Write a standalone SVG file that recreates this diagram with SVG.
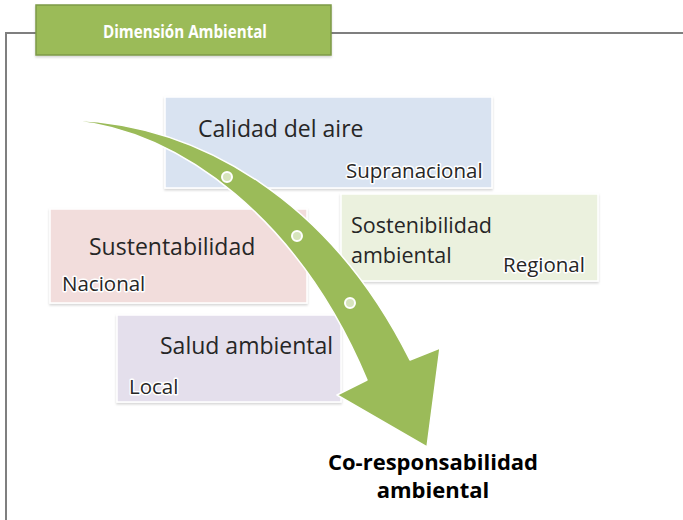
<svg xmlns="http://www.w3.org/2000/svg" width="683" height="520" viewBox="0 0 683 520">
<defs>
<style>
.frame{fill:none;stroke:#7f7f7f;stroke-width:2}
.box{stroke:#ffffff;stroke-width:1.5;filter:url(#sh)}
.t{font-family:"Open Sans","Liberation Sans",sans-serif;fill:#262626}
.big{font-size:23px}
.sm{font-size:20.5px;stroke:#ffffff;stroke-width:3;stroke-linejoin:round;paint-order:stroke}
.bold{font-weight:bold;font-size:22px;fill:#000}
.dot{fill:#d7e4bd;stroke:#ffffff;stroke-width:2}
</style>
<filter id="sh" x="-10%" y="-10%" width="120%" height="130%">
<feDropShadow dx="0" dy="1.5" stdDeviation="1.2" flood-color="#000" flood-opacity="0.18"/>
</filter>
</defs>
<g id="frame">
<path class="frame" d="M6,520 V33 H683"/>
</g>
<g id="title">
<rect x="36" y="5" width="295" height="50" fill="#9bbb59" stroke="#7e9a48" stroke-width="1.5" filter="url(#sh)"/>
<text x="185" y="37.5" text-anchor="middle" font-family="'Open Sans','Liberation Sans',sans-serif" font-size="17" font-weight="bold" fill="#ffffff" textLength="164" lengthAdjust="spacingAndGlyphs">Dimensión Ambiental</text>
</g>
<g id="calidad">
<rect class="box" x="165" y="97" width="327" height="91" fill="#d9e3f1"/>
<text class="t big" x="198" y="137">Calidad del aire</text>
<text class="t sm" x="346" y="178">Supranacional</text>
</g>
<g id="sustentabilidad">
<rect class="box" x="50" y="209" width="257" height="94" fill="#f2dddc"/>
<text class="t big" x="89" y="255">Sustentabilidad</text>
<text class="t sm" x="62" y="291">Nacional</text>
</g>
<g id="sostenibilidad">
<rect class="box" x="341" y="194" width="257" height="87" fill="#ebf1de"/>
<text class="t" font-size="21.5" x="351" y="233">Sostenibilidad</text>
<text class="t" font-size="21.5" x="351" y="263">ambiental</text>
<text class="t sm" x="503" y="272">Regional</text>
</g>
<g id="salud">
<rect class="box" x="117" y="315" width="224" height="87" fill="#e4dfec"/>
<text class="t big" x="160" y="354">Salud ambiental</text>
<text class="t sm" x="129" y="394">Local</text>
</g>
<g id="connectors">
<path d="M73,120 C200,125 330,200 410,360 L440,348 L427,447 L337,395 L367,380 C300,220 180,130 73,121 Z" fill="#9bbb59" stroke="#ffffff" stroke-width="1.5" stroke-linejoin="round"/>
<circle class="dot" cx="227" cy="177" r="5"/>
<circle class="dot" cx="297" cy="236" r="5"/>
<circle class="dot" cx="350" cy="303" r="5"/>
</g>
<g id="result">
<text class="t bold" x="433" y="470" text-anchor="middle">Co-responsabilidad<tspan x="433" y="498">ambiental</tspan></text>
</g>
</svg>
